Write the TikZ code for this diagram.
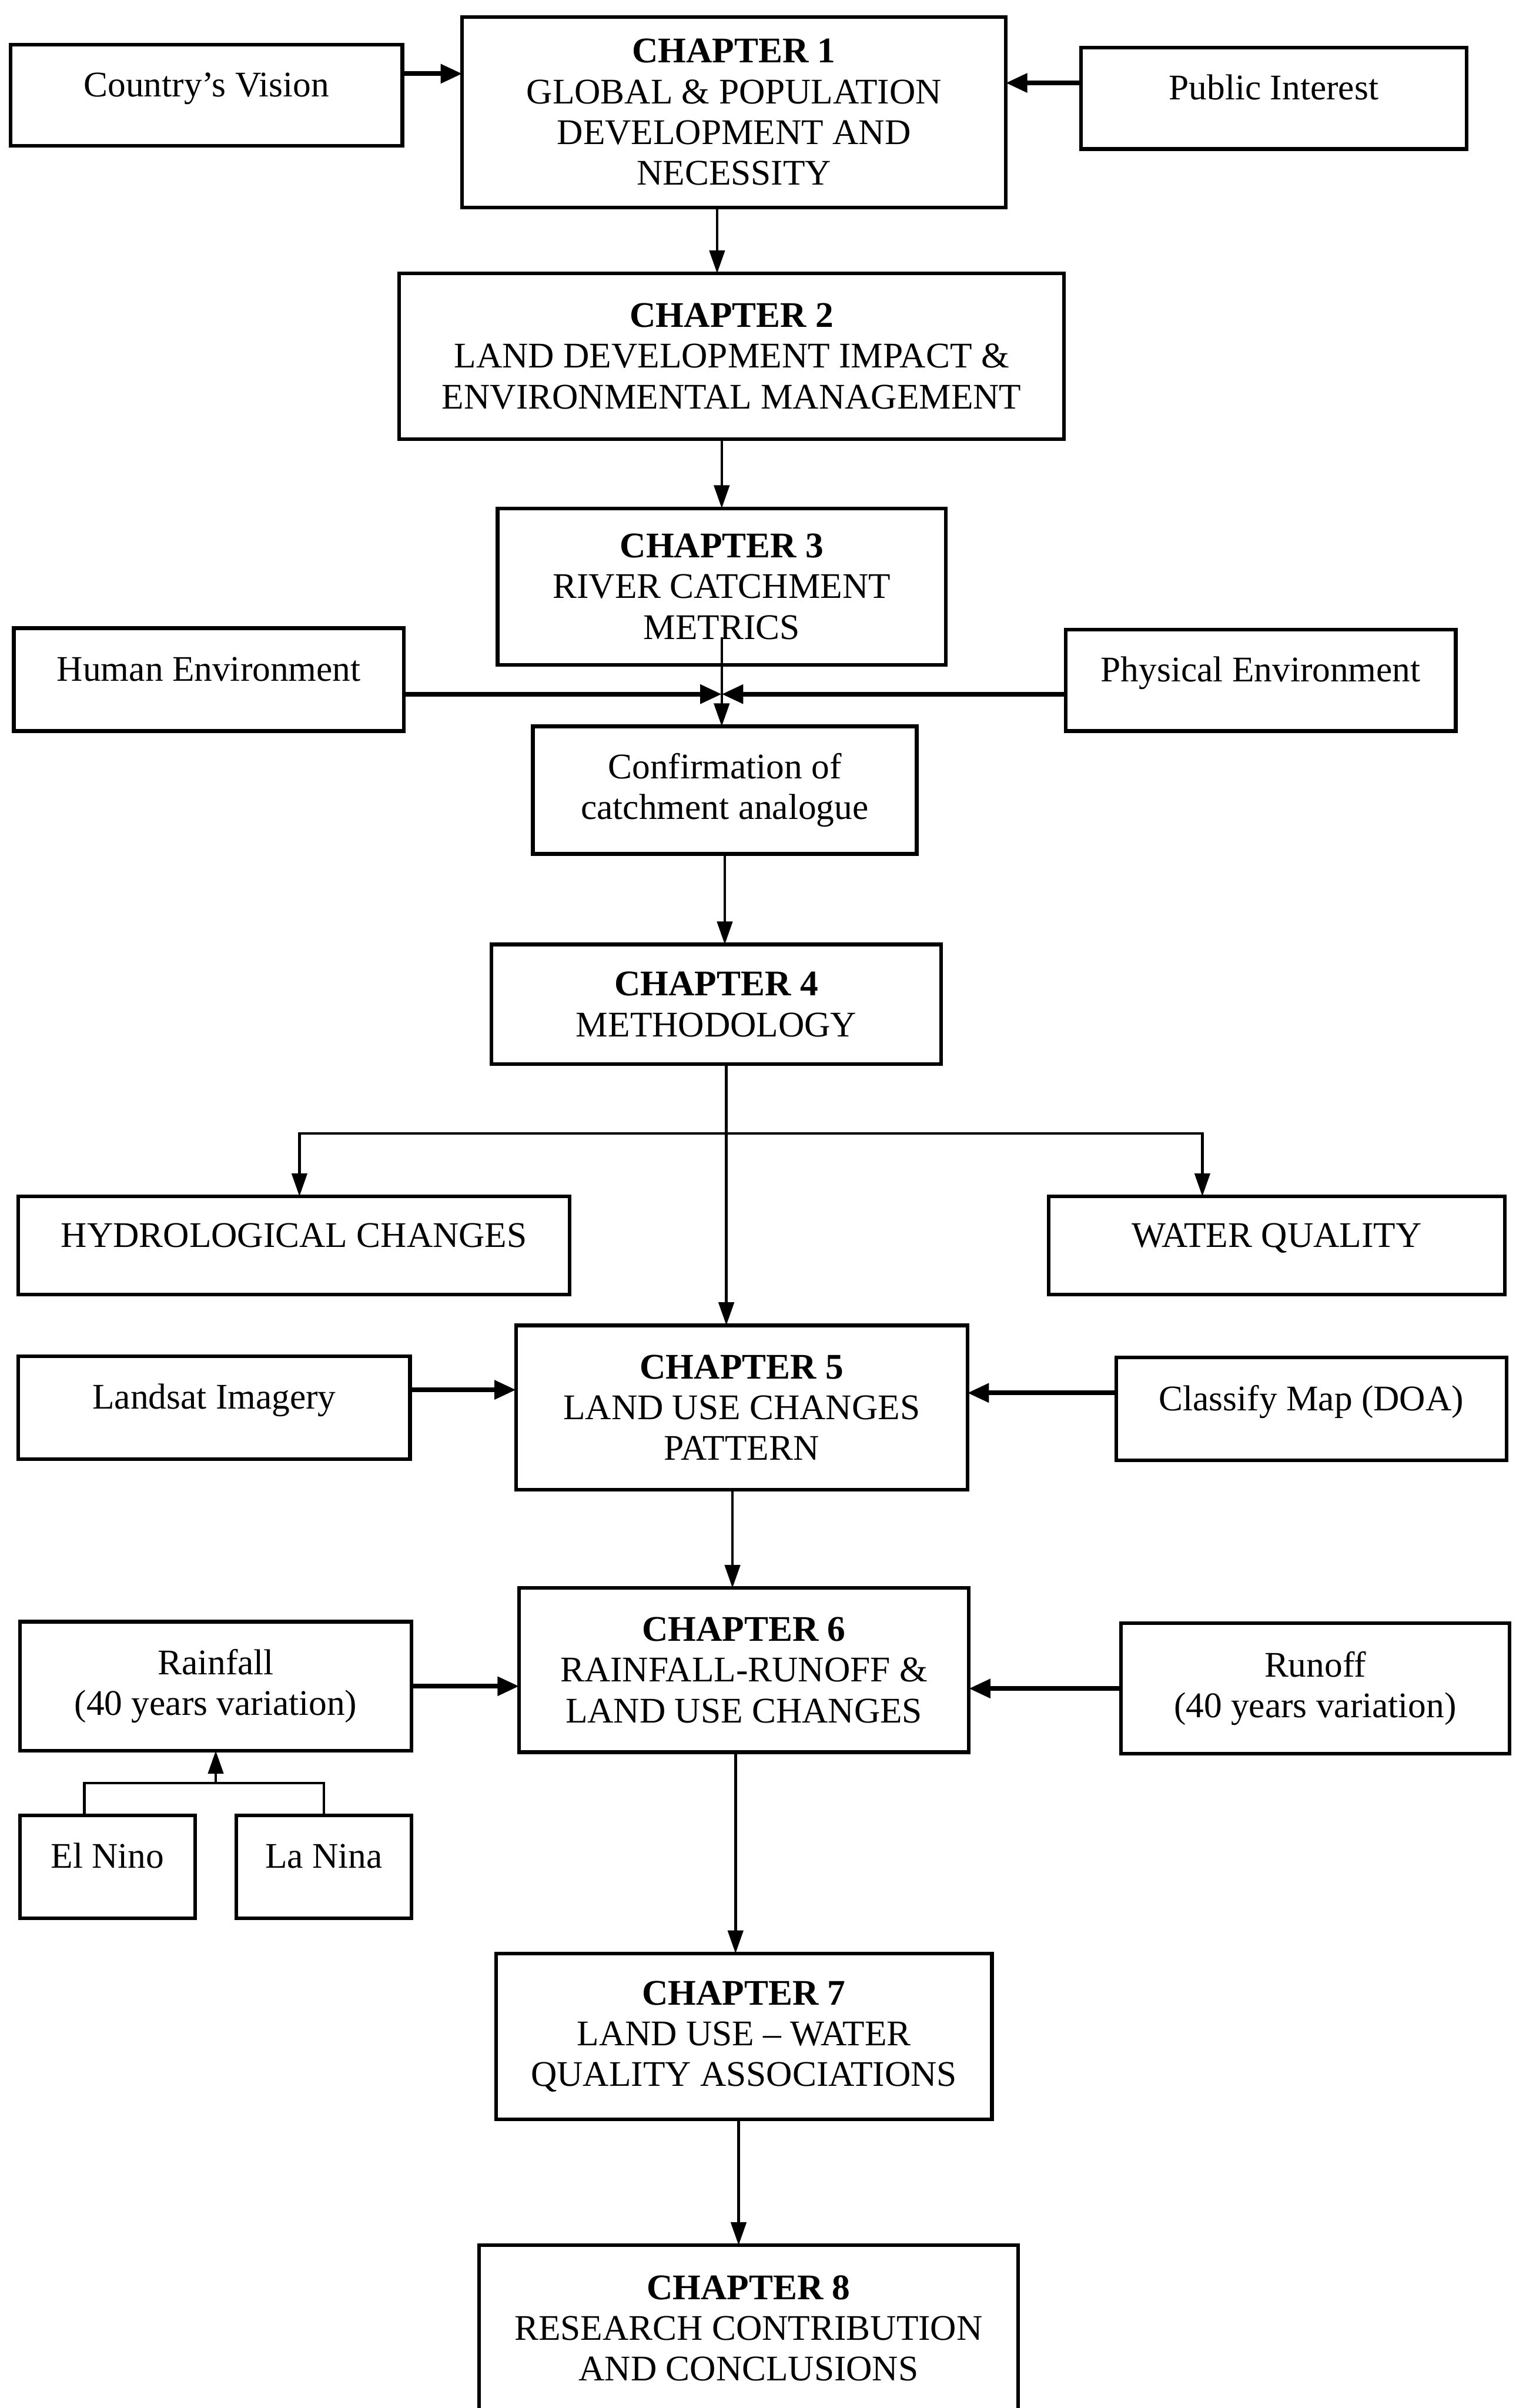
\documentclass[tikz,border=0pt]{standalone}
\usepackage{fontspec}
\setmainfont{Liberation Serif}
\usetikzlibrary{arrows.meta,calc}
\newcommand{\fsz}{\fontsize{23.5}{26.5}\selectfont}
\tikzset{
  box/.style={draw, line width=2.4pt, inner sep=0pt, outer sep=0pt, align=center, font=\fsz},
  one/.style={text height=16.4pt, text depth=14.4pt},
  arr/.style={-{Triangle[length=15pt,width=10pt]}, line width=1.7pt},
  harr/.style={-{Triangle[length=14pt,width=12pt]}, line width=3pt},
  plain/.style={line width=1.7pt},
}
\begin{document}
\begin{tikzpicture}[x=1pt,y=-1pt]
\useasboundingbox[fill=white] (0,0) rectangle (987,1568);
% nodes
\node[box,one,minimum width=255pt,minimum height=66pt] (cv) at (134.5,62) {Country's Vision};
\node[box,minimum width=354pt,minimum height=124pt] (ch1) at (478,73) {\textbf{CHAPTER 1}\\GLOBAL \& POPULATION\\DEVELOPMENT AND\\NECESSITY};
\node[box,one,minimum width=251pt,minimum height=66pt] (pi) at (829.5,64) {Public Interest};
\node[box,minimum width=433pt,minimum height=108pt] (ch2) at (476.5,232) {\textbf{CHAPTER 2}\\LAND DEVELOPMENT IMPACT \&\\ENVIRONMENTAL MANAGEMENT};
\node[box,minimum width=292pt,minimum height=102pt] (ch3) at (470,382) {\textbf{CHAPTER 3}\\RIVER CATCHMENT\\METRICS};
\node[box,one,minimum width=254pt,minimum height=67pt] (hum) at (136,442.5) {Human Environment};
\node[box,one,minimum width=254pt,minimum height=66pt] (phy) at (821,443) {Physical Environment};
\node[box,minimum width=250pt,minimum height=83pt] (conf) at (472,514.5) {Confirmation of\\catchment analogue};
\node[box,minimum width=293pt,minimum height=78pt] (ch4) at (466.5,654) {\textbf{CHAPTER 4}\\METHODOLOGY};
\node[box,one,minimum width=359pt,minimum height=64pt] (hyd) at (191.5,811) {HYDROLOGICAL CHANGES};
\node[box,one,minimum width=297pt,minimum height=64pt] (wq) at (831.5,811) {WATER QUALITY};
\node[box,minimum width=294pt,minimum height=107pt] (ch5) at (483,916.5) {\textbf{CHAPTER 5}\\LAND USE CHANGES\\PATTERN};
\node[box,one,minimum width=255pt,minimum height=67pt] (land) at (139.5,916.5) {Landsat Imagery};
\node[box,one,minimum width=254pt,minimum height=67pt] (cls) at (854,917.5) {Classify Map (DOA)};
\node[box,minimum width=293pt,minimum height=107pt] (ch6) at (484.5,1087.5) {\textbf{CHAPTER 6}\\RAINFALL-RUNOFF \&\\LAND USE CHANGES};
\node[box,minimum width=255pt,minimum height=84pt] (rain) at (140.5,1098) {Rainfall\\(40 years variation)};
\node[box,minimum width=253pt,minimum height=85pt] (run) at (856.5,1099.5) {Runoff\\(40 years variation)};
\node[box,one,minimum width=114pt,minimum height=67pt] (eln) at (70,1215.5) {El Nino};
\node[box,one,minimum width=114pt,minimum height=67pt] (lan) at (211,1215.5) {La Nina};
\node[box,minimum width=323pt,minimum height=108pt] (ch7) at (484.5,1326) {\textbf{CHAPTER 7}\\LAND USE -- WATER\\QUALITY ASSOCIATIONS};
\node[box,minimum width=351pt,minimum height=108pt] (ch8) at (487.5,1516) {\textbf{CHAPTER 8}\\RESEARCH CONTRIBUTION\\AND CONCLUSIONS};
% connectors
\coordinate (a1) at ([yshift=14pt]cv.east);
\draw[harr] (a1) -- (a1 -| ch1.west);
\coordinate (a2) at ([yshift=10pt]pi.west);
\draw[harr] (a2) -- (a2 -| ch1.east);
\coordinate (a3) at ([xshift=-11pt]ch1.south);
\draw[arr] (a3) -- (a3 |- ch2.north);
\draw[arr] (ch3.north |- ch2.south) -- (ch3.north);
\coordinate (a5) at ([yshift=-9.5pt]hum.east);
\draw[harr] (a5) -- (a5 -| ch3.south);
\coordinate (a6) at ([yshift=-9pt]phy.west);
\draw[harr] (a6) -- (a6 -| ch3.south);
\coordinate (a7) at ([yshift=18pt]ch3.south);
\draw[arr] (a7) -- (a7 |- conf.north);
\draw[arr] (conf.south) -- (conf.south |- ch4.north);
\coordinate (a9) at ([xshift=6.5pt]ch4.south);
\draw[arr] (a9) -- (a9 |- ch5.north);
\coordinate (br) at ([yshift=-45pt]a9);
\draw[arr] (br) -| ([xshift=3.5pt]hyd.north);
\draw[arr] (br) -| ([xshift=-48.5pt]wq.north);
\coordinate (a11) at ([yshift=11.5pt]land.east);
\draw[harr] (a11) -- (a11 -| ch5.west);
\coordinate (a12) at ([yshift=10.5pt]cls.west);
\draw[harr] (a12) -- (a12 -| ch5.east);
\coordinate (a13) at ([xshift=-6pt]ch5.south);
\draw[arr] (a13) -- (a13 |- ch6.north);
\draw[harr] (rain.east) -- (rain.east -| ch6.west);
\draw[harr] (run.west) -- (run.west -| ch6.east);
\coordinate (jl) at ([xshift=-15pt,yshift=21pt]eln.north);
\coordinate (jr) at ([yshift=21pt]lan.north);
\draw[plain] (eln.north -| jl) -- (jl) -- (jr) -- (lan.north);
\draw[arr] (jl -| rain.south) -- (rain.south);
\coordinate (a17) at ([xshift=-5.5pt]ch6.south);
\draw[arr] (a17) -- (a17 |- ch7.north);
\coordinate (a18) at ([xshift=-3.5pt]ch7.south);
\draw[arr] (a18) -- (a18 |- ch8.north);
\end{tikzpicture}
\end{document}
